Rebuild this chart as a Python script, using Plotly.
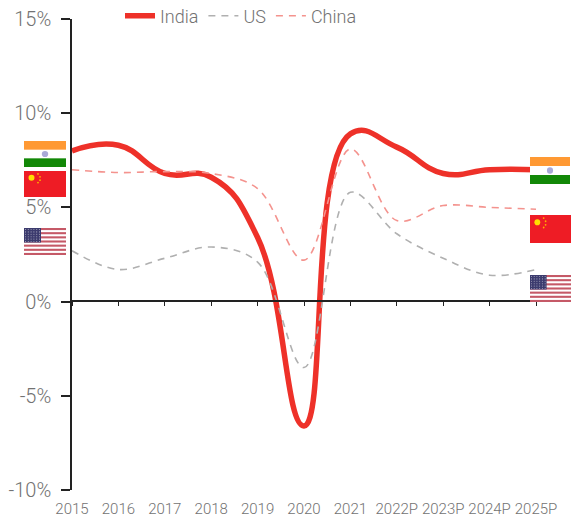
import base64
import plotly.graph_objects as go

years = ["2015", "2016", "2017", "2018", "2019", "2020", "2021", "2022P", "2023P", "2024P", "2025P"]
india = [8.0, 8.3, 6.8, 6.6, 3.4, -6.6, 8.9, 8.2, 6.8, 7.0, 7.0]
us = [2.7, 1.7, 2.3, 2.9, 2.1, -3.5, 5.8, 3.6, 2.3, 1.4, 1.7]
china = [7.0, 6.85, 6.9, 6.8, 6.0, 2.2, 8.1, 4.3, 5.1, 5.0, 4.9]
y_ticks = [-10, -5, 0, 5, 10, 15]
y_labels = ["-10%", "-5%", "0%", "5%", "10%", "15%"]

W, H = 571, 519
L, R, T, B = 72, 536, 19, 490


def uri(svg):
    return "data:image/svg+xml;base64," + base64.b64encode(svg.encode()).decode()


FLAG_INDIA = uri(
    '<svg xmlns="http://www.w3.org/2000/svg" viewBox="0 0 42 27" preserveAspectRatio="none">'
    '<rect width="42" height="27" fill="#fff"/><rect width="42" height="9" fill="#FF9933"/>'
    '<rect y="18" width="42" height="9" fill="#128807"/>'
    '<circle cx="21" cy="13.5" r="3.2" fill="#a9a9d8"/></svg>'
)
FLAG_CHINA = uri(
    '<svg xmlns="http://www.w3.org/2000/svg" viewBox="0 0 42 27" preserveAspectRatio="none">'
    '<rect width="42" height="27" fill="#EE1C25"/><circle cx="7.5" cy="7" r="3" fill="#FFDE00"/>'
    '<circle cx="14" cy="3" r="0.9" fill="#FFB000"/><circle cx="16" cy="6" r="0.9" fill="#FFB000"/>'
    '<circle cx="16" cy="9.5" r="0.9" fill="#FFB000"/><circle cx="14" cy="12" r="0.9" fill="#FFB000"/></svg>'
)
stripes = "".join(
    f'<rect y="{i * 27 / 13:.2f}" width="42" height="{27 / 13:.2f}" fill="#B22234" fill-opacity="0.75"/>'
    for i in range(0, 13, 2)
)
stars = "".join(
    f'<circle cx="{1.5 + c * 2.8:.1f}" cy="{1.5 + r * 2.4:.1f}" r="0.55" fill="#fff" fill-opacity="0.55"/>'
    for r in range(6) for c in range(6)
)
FLAG_US = uri(
    '<svg xmlns="http://www.w3.org/2000/svg" viewBox="0 0 42 27" preserveAspectRatio="none">'
    f'<rect width="42" height="27" fill="#fff"/>{stripes}'
    f'<rect width="17" height="14.5" fill="#3C3B6E"/>{stars}</svg>'
)

flags = [
    (FLAG_INDIA, 24, 141, 42, 26), (FLAG_CHINA, 24, 171, 42, 26), (FLAG_US, 24, 228, 42, 27),
    (FLAG_INDIA, 530, 157, 40, 27), (FLAG_CHINA, 530, 215, 41, 28), (FLAG_US, 530, 275, 41, 27),
]

fig = go.Figure()
fig.add_trace(go.Scatter(x=years, y=india, name="India", mode="lines",
                         line=dict(color="#EE3129", width=5.5, shape="spline", smoothing=1.3), cliponaxis=False))
fig.add_trace(go.Scatter(x=years, y=us, name="US", mode="lines",
                         line=dict(color="#B0B0B0", width=1.6, shape="spline", smoothing=1.0, dash="7px,6px"), cliponaxis=False))
fig.add_trace(go.Scatter(x=years, y=china, name="China", mode="lines",
                         line=dict(color="#F4938E", width=1.6, shape="spline", smoothing=1.0, dash="7px,6px"), cliponaxis=False))
# carries the zero-level axis with its tick marks
fig.add_trace(go.Scatter(x=years, y=[0] * len(years), xaxis="x2", mode="lines", showlegend=False,
                         hoverinfo="skip", line=dict(color="rgba(0,0,0,0)", width=0)))

zero_pos = (B - 301) / B
y_dom = [0, (B - T) / B]
fig.update_layout(
    width=W, height=H, autosize=False,
    paper_bgcolor="white", plot_bgcolor="white",
    margin=dict(l=L, r=W - R, t=0, b=H - B, pad=0, autoexpand=False),
    font=dict(family="Roboto, sans-serif", color="#727272"),
    showlegend=True,
    legend=dict(orientation="h", x=(120 - L) / (R - L), y=1 - 16 / B, xanchor="left", yanchor="middle",
                font=dict(size=18, color="#727272", family="Roboto, sans-serif", weight=300),
                bgcolor="rgba(0,0,0,0)", itemwidth=30, tracegroupgap=0),
    xaxis=dict(type="category", categoryorder="array", categoryarray=years, range=[0, 10], automargin=False,
               showgrid=False, zeroline=False, showline=False, ticks="", ticklabelstandoff=8,
               tickfont=dict(size=15, color="#727272", family="Roboto, sans-serif", weight=300), tickangle=0),
    xaxis2=dict(type="category", categoryorder="array", categoryarray=years, range=[0, 10], automargin=False,
                overlaying="x", anchor="free", position=zero_pos, side="bottom",
                showgrid=False, zeroline=False, showline=True, linecolor="#222222", linewidth=1.5,
                ticks="outside", ticklen=4, tickwidth=1, tickcolor="#222222", showticklabels=False),
    yaxis=dict(domain=y_dom, range=[-10, 15], tickvals=y_ticks, ticktext=y_labels, showgrid=False, zeroline=False,
               automargin=False, showline=True, linecolor="#222222", linewidth=1.5, ticks="outside", ticklen=9,
               tickwidth=1.5, tickcolor="#222222", ticklabelstandoff=6,
               tickfont=dict(size=20, color="#727272", family="Roboto, sans-serif", weight=300)),
    images=[dict(source=s, xref="paper", yref="paper",
                 x=(px - L) / (R - L), y=1 - py / B,
                 sizex=w / (R - L), sizey=h / B,
                 xanchor="left", yanchor="top", sizing="stretch", layer="above")
            for s, px, py, w, h in flags],
)
fig.write_html("out.html", config={"displayModeBar": False}, post_script="document.body.style.margin='0';")
